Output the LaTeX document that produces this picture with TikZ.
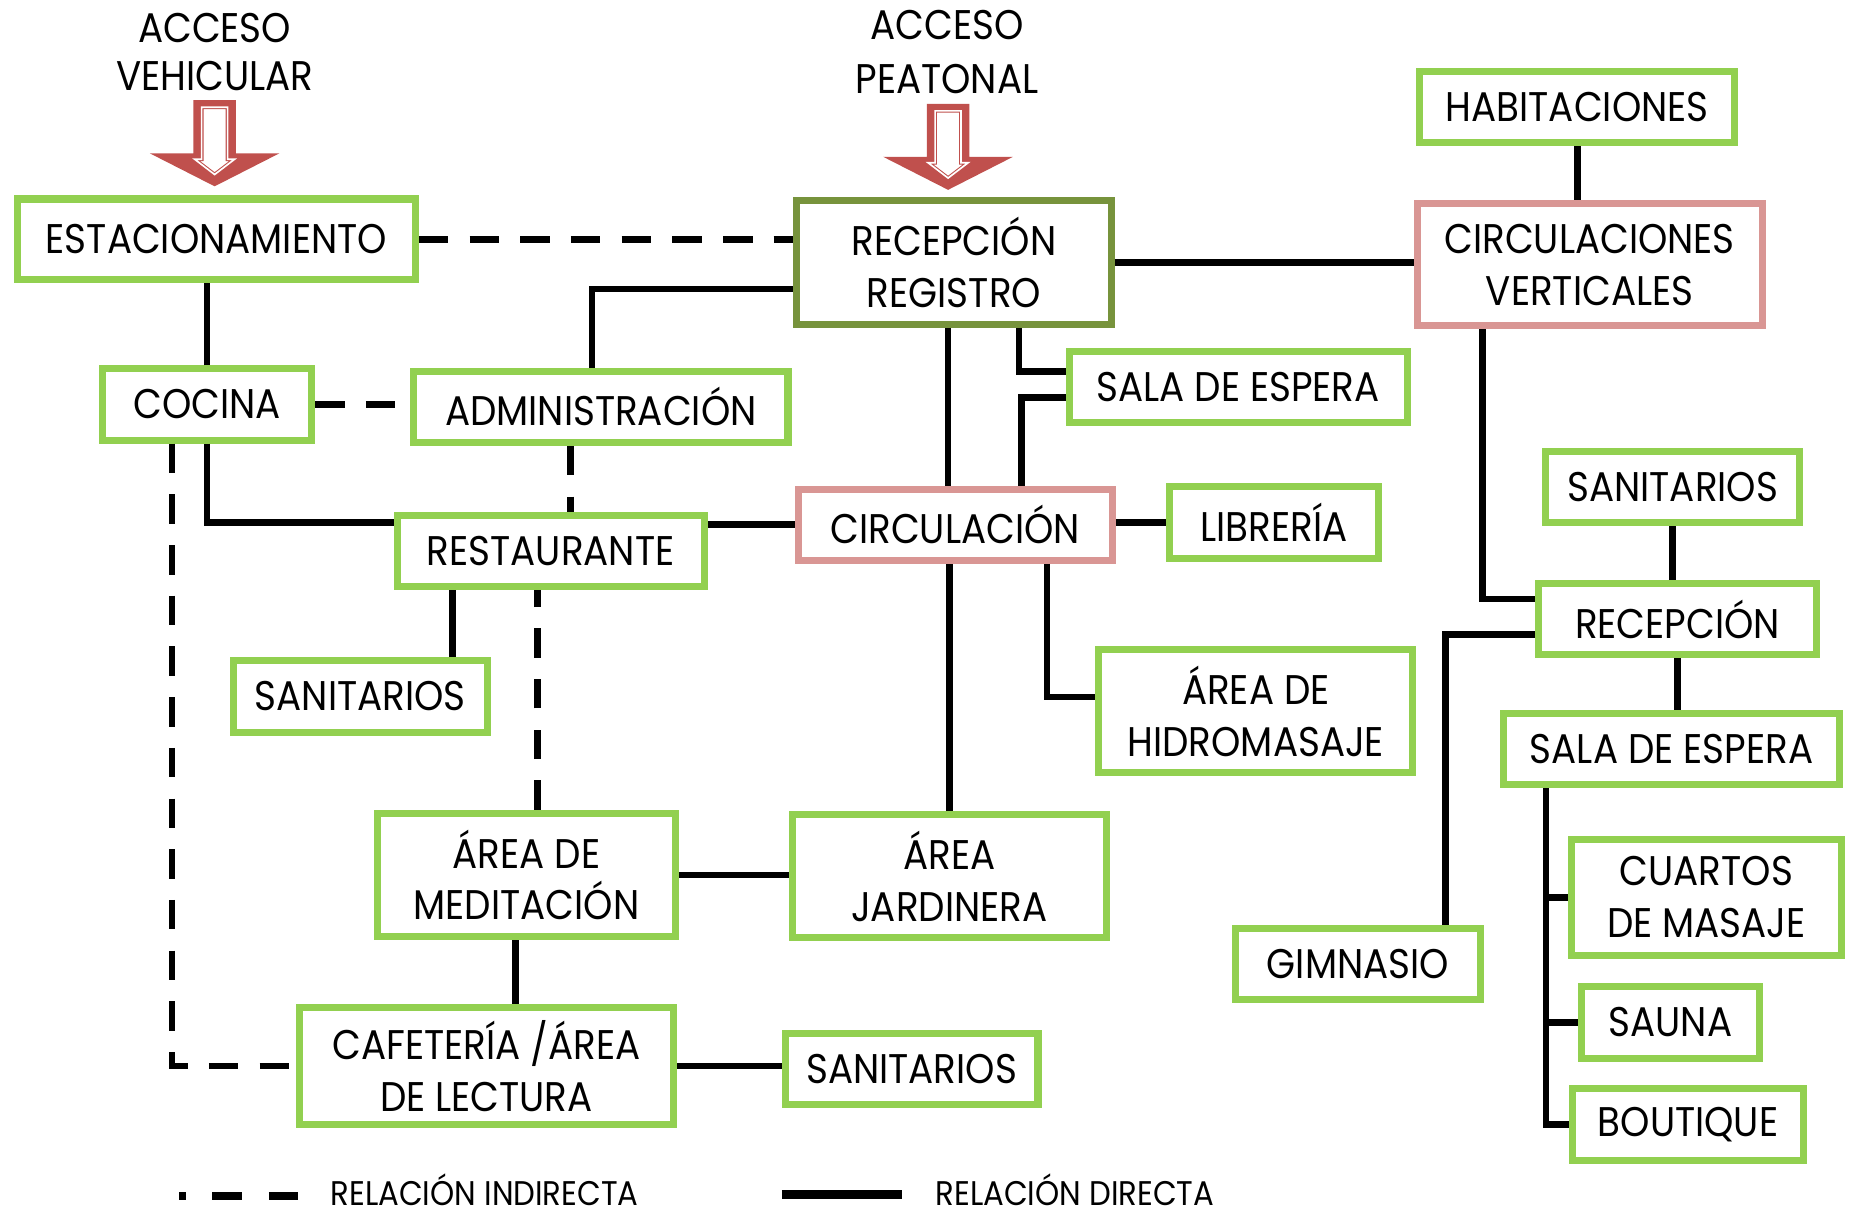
\documentclass[tikz,border=0pt]{standalone}
\usepackage{fontspec}
\setmainfont{Poppins}[FakeStretch=0.9]
\usepackage{xcolor}
\usepackage{tikz}
\definecolor{boxgreen}{HTML}{92D050}
\definecolor{recgreen}{HTML}{77933C}
\definecolor{circpink}{HTML}{D99694}
\definecolor{accred}{HTML}{C0504D}

\begin{document}
\begin{tikzpicture}[x=0.02cm, y=-0.02cm,
  box/.style={draw=boxgreen, line width=3.4pt, rectangle, align=center, inner sep=0pt,
    font=\fontsize{20}{25}\selectfont},
  label/.style={align=center, inner sep=0pt, font=\fontsize{20}{23}\selectfont},
  legtext/.style={inner sep=0pt, anchor=base west, font=\fontsize{16.5}{18}\selectfont},
  direct/.style={line width=3.2pt},
  indirect/.style={line width=3.2pt, dash pattern=on 0.5cm off 0.36cm}]
  \useasboundingbox (0,0) rectangle (1568,1033);

  % accesos
  \node[label] (accveh) at (182,44) {ACCESO\\VEHICULAR};
  \node[label, font=\fontsize{20}{26}\selectfont] (accpea) at (803,44) {ACCESO\\PEATONAL};
  \foreach \cx/\ty in {182/85, 804/88} {
    \fill[accred] ({\cx-18},\ty) -- ({\cx+18},\ty) -- ({\cx+18},{\ty+45}) -- ({\cx+55},{\ty+45})
      -- (\cx,{\ty+73}) -- ({\cx-55},{\ty+45}) -- ({\cx-18},{\ty+45}) -- cycle;
    \draw[accred, line width=0.5pt, double=white, double distance=0.8pt, fill=white]
      ({\cx-11},{\ty+6}) -- ({\cx+11},{\ty+6}) -- ({\cx+11},{\ty+50}) -- ({\cx+17},{\ty+50})
      -- (\cx,{\ty+63}) -- ({\cx-17},{\ty+50}) -- ({\cx-11},{\ty+50}) -- cycle;
  }

  % espacios
  \node[box, minimum width=6.75cm, minimum height=1.37cm] (estac) at (183.5,203) {ESTACIONAMIENTO};
  \node[box, draw=recgreen, minimum width=5.33cm, minimum height=2.11cm] (recep) at (809,222.5) {RECEPCIÓN\\REGISTRO};
  \node[box, draw=circpink, minimum width=5.85cm, minimum height=2.07cm] (circvert) at (1348,224.5) {CIRCULACIONES\\VERTICALES};
  \node[box, minimum width=5.35cm, minimum height=1.21cm] (habit) at (1337.5,91) {HABITACIONES};
  \node[box, minimum width=3.55cm, minimum height=1.21cm] (cocina) at (175.5,343) {COCINA};
  \node[box, minimum width=6.35cm, minimum height=1.21cm] (admin) at (509.5,345) {ADMINISTRACIÓN};
  \node[box, minimum width=5.73cm, minimum height=1.21cm] (espera) at (1050,328) {SALA DE ESPERA};
  \node[box, minimum width=5.21cm, minimum height=1.21cm] (restau) at (467,467) {RESTAURANTE};
  \node[box, draw=circpink, minimum width=5.33cm, minimum height=1.21cm] (circ) at (810,445) {CIRCULACIÓN};
  \node[box, minimum width=3.55cm, minimum height=1.21cm] (libreria) at (1080.5,443) {LIBRERÍA};
  \node[box, minimum width=4.31cm, minimum height=1.23cm] (sanrest) at (305.5,590.5) {SANITARIOS};
  \node[box, minimum width=5.33cm, minimum height=2.09cm] (hidro) at (1065,603) {ÁREA DE\\HIDROMASAJE};
  \node[box, minimum width=5.07cm, minimum height=2.09cm] (medit) at (446.5,742) {ÁREA DE\\MEDITACIÓN};
  \node[box, minimum width=5.33cm, minimum height=2.09cm] (jard) at (805,743) {ÁREA\\JARDINERA};
  \node[box, minimum width=6.35cm, minimum height=1.97cm] (cafe) at (412.5,904) {CAFETERÍA /ÁREA\\DE LECTURA};
  \node[box, minimum width=4.29cm, minimum height=1.19cm] (sancafe) at (773,906.5) {SANITARIOS};
  \node[box, minimum width=4.31cm, minimum height=1.21cm] (sanspa) at (1418.5,413) {SANITARIOS};
  \node[box, minimum width=4.71cm, minimum height=1.21cm] (recspa) at (1422.5,525) {RECEPCIÓN};
  \node[box, minimum width=5.71cm, minimum height=1.21cm] (esperaspa) at (1417.5,635) {SALA DE ESPERA};
  \node[box, minimum width=4.15cm, minimum height=1.19cm] (gimn) at (1151.5,817.5) {GIMNASIO};
  \node[box, minimum width=4.57cm, minimum height=1.97cm] (masaje) at (1447,761) {CUARTOS\\DE MASAJE};
  \node[box, minimum width=3.03cm, minimum height=1.21cm] (sauna) at (1416.5,867) {SAUNA};
  \node[box, minimum width=3.91cm, minimum height=1.23cm] (boutique) at (1431.5,953.5) {BOUTIQUE};

  % relaciones indirectas
  \draw[indirect] (estac.east) -- (estac.east -| recep.west);
  \draw[indirect] (cocina.east) -- (cocina.east -| admin.west);
  \draw[indirect] ([xshift=-0.59cm]cocina.south) |- (cafe.west);
  \draw[indirect] ([xshift=-0.51cm]admin.south) -- ([xshift=-0.51cm]admin.south |- restau.north);
  \draw[indirect] ([xshift=0.19cm]medit.north) -- ([xshift=0.19cm]medit.north |- restau.south);

  % relaciones directas
  \draw[direct] (cocina.north) -- (cocina.north |- estac.south);
  \draw[direct] ([xshift=-0.15cm]admin.north) |- ([yshift=-0.45cm]recep.west);
  \draw[direct] (recep.east) -- (recep.east -| circvert.west);
  \draw[direct] (habit.south) -- (habit.south |- circvert.north);
  \draw[direct] ([xshift=-0.1cm]recep.south) -- ([xshift=-0.1cm]recep.south |- circ.north);
  \draw[direct] ([xshift=1.1cm]recep.south) |- ([yshift=0.26cm]espera.west);
  \draw[direct] ([yshift=-0.18cm]espera.west) -| ([xshift=1.12cm]circ.north);
  \draw[direct] (cocina.south) |- ([yshift=0.48cm]restau.west);
  \draw[direct] (circ.west) -- (circ.west -| restau.east);
  \draw[direct] ([xshift=1.57cm]sanrest.north) -- ([xshift=1.57cm]sanrest.north |- restau.south);
  \draw[direct] (libreria.west) -- (libreria.west -| circ.east);
  \draw[direct] ([xshift=1.56cm]circ.south) |- ([yshift=0.24cm]hidro.west);
  \draw[direct] (jard.north) -- (jard.north |- circ.south);
  \draw[direct] (medit.east) -- (medit.east -| jard.west);
  \draw[direct] ([xshift=-0.19cm]medit.south) -- ([xshift=-0.19cm]medit.south |- cafe.north);
  \draw[direct] (cafe.east) -- (cafe.east -| sancafe.west);
  \draw[direct] ([xshift=-1.82cm]circvert.south) |- ([yshift=0.34cm]recspa.west);
  \draw[direct] (sanspa.south) -- (sanspa.south |- recspa.north);
  \draw[direct] (recspa.south) -- (recspa.south |- esperaspa.north);
  \draw[direct] ([yshift=-0.26cm]recspa.west) -| ([xshift=1.49cm]gimn.north);
  \coordinate (trunk) at ([xshift=-2.13cm]esperaspa.south);
  \draw[direct] (trunk) |- (boutique.west);
  \foreach \n in {masaje, sauna}
    \draw[direct] (trunk |- \n.west) -- (\n.west);

  % leyenda
  \draw[line width=4pt, dash pattern=on 0.12cm off 0.44cm on 0.5cm off 0.46cm on 0.5cm off 1cm] (152,1014) -- (253,1014);
  \node[legtext] (legind) at (280,1022) {RELACIÓN INDIRECTA};
  \draw[line width=4pt] (663,1013) -- (765,1013);
  \node[legtext] (legdir) at (793,1022) {RELACIÓN DIRECTA};
\end{tikzpicture}
\end{document}
